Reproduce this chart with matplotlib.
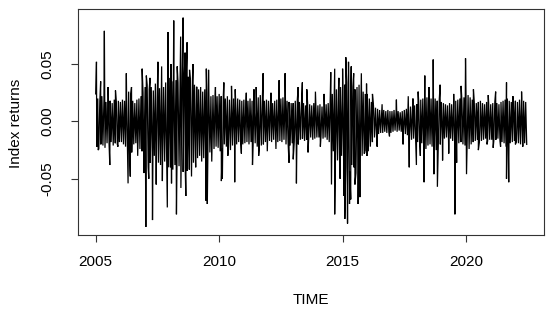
import numpy as np
import matplotlib
matplotlib.use("Agg")
import matplotlib.pyplot as plt

plt.rcParams['font.family'] = ['Liberation Sans', 'DejaVu Sans']

start_year = 2005.0
# monthly dense-core highs / lows (Jan 2005 .. Jun 2022)
core_hi = [
    .024,.020,.018,.022,.019,.017,.020,.018,.016,.019,.017,.018,   # 2005
    .017,.019,.018,.022,.026,.024,.018,.016,.019,.020,.022,.025,   # 2006
    .030,.032,.028,.030,.027,.033,.031,.029,.035,.030,.034,.036,   # 2007
    .038,.035,.040,.036,.034,.038,.040,.037,.042,.039,.036,.035,   # 2008
    .032,.030,.028,.030,.026,.028,.025,.024,.022,.023,.021,.022,   # 2009
    .024,.022,.021,.020,.022,.019,.021,.020,.018,.020,.019,.018,   # 2010
    .019,.017,.018,.020,.018,.016,.019,.021,.023,.020,.018,.019,   # 2011
    .018,.017,.016,.018,.019,.017,.020,.021,.019,.018,.017,.016,   # 2012
    .016,.018,.019,.017,.015,.016,.014,.016,.015,.014,.016,.015,   # 2013
    .014,.015,.013,.014,.015,.016,.020,.024,.026,.028,.027,.030,   # 2014
    .030,.032,.034,.033,.031,.030,.028,.030,.032,.028,.026,.024,   # 2015
    .024,.020,.017,.014,.012,.011,.010,.009,.010,.009,.010,.009,   # 2016
    .009,.010,.008,.009,.008,.009,.010,.011,.012,.013,.012,.014,   # 2017
    .015,.017,.019,.020,.022,.021,.019,.020,.022,.020,.018,.019,   # 2018
    .017,.016,.015,.014,.016,.015,.017,.018,.019,.020,.018,.021,   # 2019
    .022,.023,.021,.019,.017,.016,.017,.018,.016,.015,.017,.016,   # 2020
    .015,.016,.017,.016,.015,.017,.018,.019,.020,.018,.017,.016,   # 2021
    .018,.017,.019,.020,.018,.017,                                 # 2022
]
core_lo = [
    -.022,-.024,-.020,-.021,-.023,-.019,-.020,-.018,-.021,-.019,-.020,-.018,
    -.018,-.020,-.022,-.028,-.032,-.027,-.020,-.019,-.022,-.024,-.026,-.028,
    -.035,-.040,-.036,-.032,-.030,-.034,-.036,-.038,-.033,-.035,-.037,-.040,
    -.040,-.042,-.038,-.036,-.039,-.041,-.044,-.040,-.043,-.042,-.038,-.036,
    -.034,-.032,-.030,-.035,-.032,-.036,-.030,-.027,-.025,-.024,-.022,-.023,
    -.026,-.024,-.020,-.022,-.023,-.025,-.021,-.019,-.020,-.018,-.019,-.020,
    -.019,-.018,-.020,-.018,-.021,-.019,-.022,-.024,-.021,-.020,-.018,-.019,
    -.017,-.018,-.016,-.019,-.018,-.017,-.018,-.016,-.020,-.018,-.021,-.019,
    -.018,-.022,-.020,-.016,-.015,-.017,-.016,-.015,-.014,-.016,-.015,-.014,
    -.014,-.013,-.015,-.014,-.016,-.018,-.022,-.026,-.030,-.034,-.032,-.030,
    -.034,-.040,-.042,-.044,-.038,-.040,-.045,-.038,-.036,-.030,-.028,-.026,
    -.026,-.022,-.018,-.014,-.012,-.011,-.010,-.010,-.009,-.010,-.009,-.010,
    -.009,-.008,-.009,-.008,-.009,-.010,-.011,-.012,-.014,-.016,-.015,-.017,
    -.018,-.020,-.019,-.022,-.024,-.021,-.020,-.022,-.024,-.025,-.022,-.020,
    -.016,-.015,-.014,-.016,-.015,-.017,-.020,-.022,-.019,-.018,-.020,-.021,
    -.022,-.024,-.020,-.018,-.017,-.016,-.018,-.017,-.016,-.015,-.017,-.016,
    -.016,-.017,-.016,-.015,-.017,-.018,-.019,-.022,-.020,-.019,-.018,-.017,
    -.018,-.019,-.020,-.018,-.019,-.020,
]

spike_up_t = [2005.03,2005.20,2005.35,2005.50,2005.80,2006.24,2006.45,2006.88,2007.05,2007.20,
              2007.52,2007.67,2007.93,2008.05,2008.16,2008.30,2008.44,2008.54,2008.62,2008.70,
              2008.80,2008.94,2009.10,2009.48,2009.57,2009.85,2010.19,2010.50,2010.65,2011.10,
              2011.41,2011.50,2011.78,2012.10,2012.43,2012.67,2013.20,2013.37,2013.55,2013.90,
              2014.25,2014.52,2014.68,2014.85,2015.00,2015.13,2015.24,2015.35,2015.45,2015.76,
              2015.97,2016.21,2016.60,2017.18,2017.66,2017.85,2018.06,2018.33,2018.50,2018.67,
              2018.95,2019.50,2019.80,2019.98,2020.30,2020.90,2021.20,2021.64,2021.90,2022.25]
spike_up_v = [.052,.035,.079,.030,.027,.042,.030,.046,.040,.038,
              .052,.048,.078,.050,.088,.048,.074,.0905,.060,.069,
              .045,.050,.030,.046,.045,.030,.034,.031,.028,.025,
              .028,.030,.042,.025,.036,.042,.030,.034,.028,.026,
              .024,.043,.046,.038,.046,.056,.052,.048,.042,.042,
              .033,.024,.015,.019,.022,.020,.026,.040,.030,.054,
              .032,.024,.031,.055,.028,.023,.026,.034,.022,.026]
spike_dn_t = [2005.10,2005.57,2005.90,2006.31,2006.40,2006.70,2006.95,2007.03,2007.15,2007.30,
              2007.45,2007.70,2007.90,2008.07,2008.27,2008.45,2008.65,2008.88,2009.05,2009.46,
              2009.52,2009.70,2010.09,2010.13,2010.35,2010.63,2010.90,2011.35,2011.60,2011.95,
              2012.30,2012.83,2013.00,2013.13,2013.60,2014.10,2014.55,2014.68,2014.90,2015.05,
              2015.09,2015.20,2015.28,2015.33,2015.50,2015.63,2015.70,2015.90,2015.99,2016.40,
              2016.90,2017.45,2017.70,2017.99,2018.15,2018.30,2018.70,2018.84,2019.05,2019.30,
              2019.55,2019.62,2020.02,2020.50,2020.85,2021.10,2021.40,2021.64,2021.73,2022.00,
              2022.30]
spike_dn_v = [-.025,-.038,-.022,-.054,-.048,-.030,-.045,-.092,-.050,-.086,
              -.055,-.052,-.075,-.054,-.081,-.058,-.065,-.048,-.040,-.069,
              -.072,-.035,-.052,-.050,-.030,-.053,-.028,-.038,-.030,-.026,
              -.024,-.036,-.033,-.054,-.027,-.022,-.055,-.081,-.050,-.065,
              -.085,-.089,-.072,-.068,-.055,-.072,-.066,-.027,-.030,-.022,
              -.013,-.020,-.040,-.038,-.030,-.053,-.046,-.057,-.034,-.028,
              -.081,-.036,-.046,-.025,-.020,-.023,-.022,-.050,-.053,-.020,
              -.022]

# assemble the series in time order
n = len(core_hi)
t_hi = start_year + np.arange(n) / 12.0
t_lo = t_hi + 1.0 / 24.0
t = np.concatenate([t_hi, t_lo, spike_up_t, spike_dn_t])
v = np.concatenate([core_hi, core_lo, spike_up_v, spike_dn_v])
order = np.argsort(t, kind="stable")
t, v = t[order], v[order]

fig = plt.figure(figsize=(5.5, 3.14), dpi=100)
ax = fig.add_axes([0.1427, 0.2506, 0.989 - 0.1427, 0.9704 - 0.2506])
ax.plot(t, v, color="black", lw=0.9, solid_joinstyle="miter")

xr = t.max() - t.min()
yr = v.max() - v.min()
ax.set_xlim(t.min() - 0.04 * xr, t.max() + 0.04 * xr)
ax.set_ylim(v.min() - 0.04 * yr, v.max() + 0.04 * yr)

ax.set_xticks([2005, 2010, 2015, 2020])
ax.set_xticklabels(["2005", "2010", "2015", "2020"])
ax.set_yticks([-0.05, 0.0, 0.05])
ax.set_yticklabels(["-0.05", "0.00", "0.05"], rotation=90, va="center")
ax.tick_params(axis="both", direction="out", length=5, width=0.8, labelsize=11,
               color="#333333")
ax.tick_params(axis="x", pad=9)
ax.tick_params(axis="y", pad=12)
for s in ax.spines.values():
    s.set_color("#333333")
    s.set_linewidth(0.8)

fig.text(16 / 550, 1 - 123 / 314, "Index returns", rotation=90, ha="center",
         va="center", fontsize=11)
fig.text(311 / 550, 1 - 300 / 314, "TIME", ha="center", va="center", fontsize=11)

fig.savefig("out.png", dpi=100)
